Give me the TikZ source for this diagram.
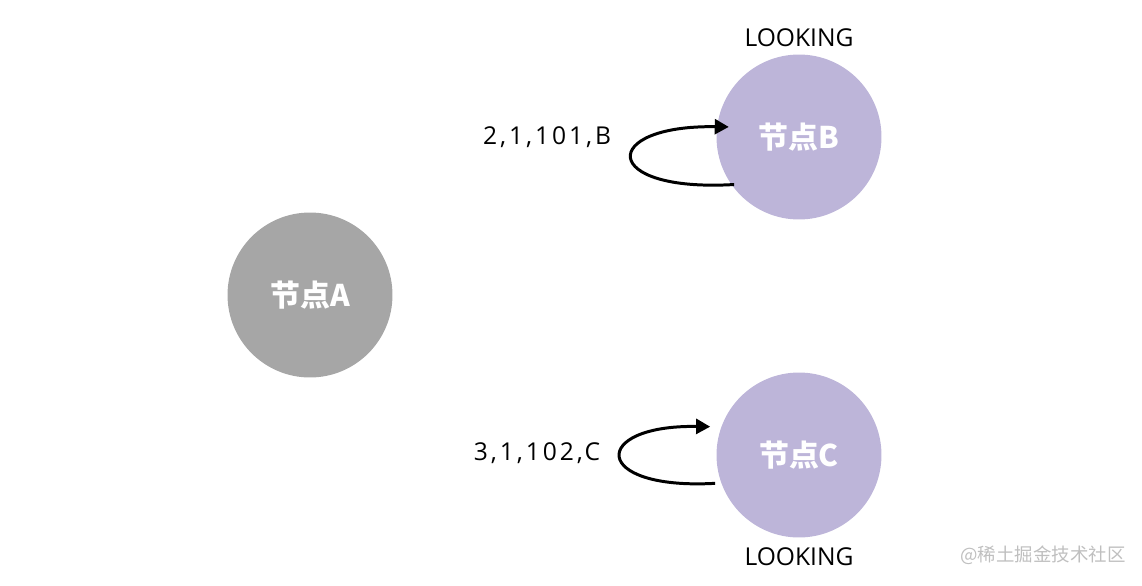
\documentclass[tikz,border=0pt]{standalone}
\usepackage{fontspec}
\setmainfont{Open Sans}
\newfontfamily\spaced{Open Sans}[LetterSpace=12]
\newfontfamily\cjk{Noto Sans CJK SC}
\usetikzlibrary{arrows.meta}
\definecolor{nodegray}{HTML}{A6A6A6}
\definecolor{nodepurple}{HTML}{BDB5D9}
\begin{document}
\begin{tikzpicture}[x=0.02cm, y=-0.02cm,
    server/.style={circle, minimum size=3.3cm, inner sep=0pt, text=white, font=\cjk\bfseries\fontsize{17}{20}\selectfont},
    vote/.style={line width=1.7pt, -{Triangle[length=8pt, width=8.5pt]}},
    tag/.style={font=\fontsize{14}{16}\selectfont},
    ballot/.style={font=\spaced\fontsize{14}{16}\selectfont}]
            \useasboundingbox (0,0) rectangle (1142,585);
            \node[server, fill=nodegray] (A) at (310,295) {节点A};
            \node[server, fill=nodepurple] (B) at (799,137) {节点B};
            \node[server, fill=nodepurple] (C) at (799,455) {节点C};
            \node[tag] (stB) at (799,38) {LOOKING};
            \node[tag] (stC) at (799,557) {LOOKING};
            \node[ballot] (vB) at (547,137) {2,1,101,B};
            \node[ballot] (vC) at (537,453) {3,1,102,C};
            \draw[vote] ([xshift=0.06cm]B.215) .. controls +(-135,8) and +(-130,-2) .. ([xshift=0.24cm]B.173);
            \draw[vote] ([xshift=-0.12cm]C.200) .. controls +(-125,7) and +(-120,-2) .. ([xshift=-0.22cm]C.160);
            \node[text=black!25, font=\cjk\fontsize{10.5}{12}\selectfont] (wm) at (1043,555) {@稀土掘金技术社区};
        \end{tikzpicture}
\end{document}
